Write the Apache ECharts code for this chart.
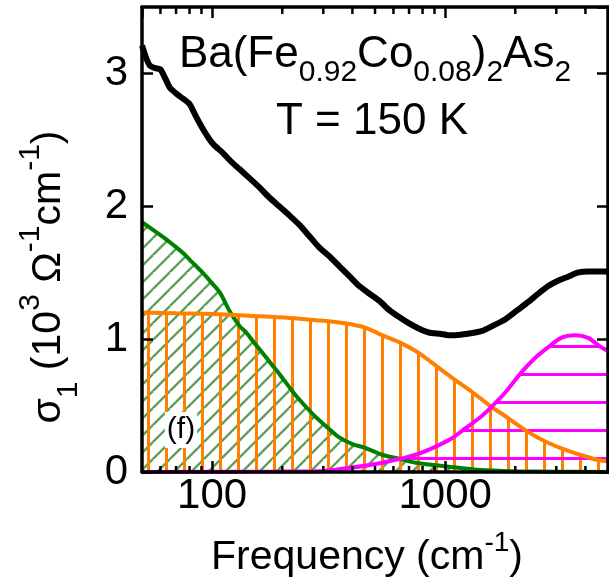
<!DOCTYPE html>
<html>
<head>
<meta charset="utf-8">
<script src="https://cdn.jsdelivr.net/npm/echarts@6/dist/echarts.min.js"></script>
<style>
  html, body { margin: 0; padding: 0; background: #fff; }
  #chart { width: 609px; height: 580px; }
</style>
</head>
<body>
<div id="chart"></div>
<script>
const FONT = '"Liberation Sans", Arial, Helvetica, sans-serif';

// Measured optical conductivity, sigma_1 (10^3 Ohm^-1 cm^-1) vs frequency (cm^-1)
const sigmaFreq = [50, 52, 54, 57, 60, 63, 66, 70, 75, 80, 85, 90, 96, 102, 110, 120, 131, 145, 160, 175, 194, 215, 237, 260, 288, 320, 351, 390, 428, 475, 521, 574, 630, 698, 770, 851, 950, 1040, 1109, 1250, 1432, 1600, 1815, 2050, 2275, 2500, 2771, 3050, 3373, 3700, 4108, 4500, 5000];
const sigmaVal  = [3.21, 3.12, 3.06, 3.04, 3.03, 2.96, 2.89, 2.85, 2.81, 2.77, 2.68, 2.60, 2.52, 2.46, 2.41, 2.34, 2.28, 2.21, 2.14, 2.07, 2.00, 1.93, 1.86, 1.78, 1.69, 1.62, 1.55, 1.47, 1.40, 1.34, 1.29, 1.22, 1.17, 1.12, 1.08, 1.05, 1.04, 1.03, 1.03, 1.04, 1.06, 1.10, 1.15, 1.22, 1.28, 1.34, 1.40, 1.44, 1.47, 1.50, 1.51, 1.51, 1.51];

// Narrow Drude term
const narrowFreq = [50, 55, 61.5, 68, 74.8, 82, 91, 100, 108, 119, 131, 140, 152, 164, 178, 194, 212, 230, 269, 310, 351, 400, 457, 536, 634, 748, 1036, 1432, 2000, 3000, 5000];
const narrowVal  = [1.88, 1.83, 1.77, 1.71, 1.65, 1.58, 1.50, 1.42, 1.35, 1.21, 1.10, 1.05, 0.97, 0.90, 0.82, 0.74, 0.65, 0.57, 0.44, 0.34, 0.26, 0.21, 0.18, 0.13, 0.10, 0.07, 0.04, 0.015, 0.006, 0.002, 0.0];

// Broad Drude term
const broadFreq = [50, 70, 100, 150, 215, 290, 351, 400, 457, 536, 646, 764, 929, 1109, 1312, 1581, 1850, 2275, 2689, 3243, 3793, 4530, 5000];
const broadVal  = [1.20, 1.195, 1.19, 1.175, 1.16, 1.14, 1.125, 1.11, 1.085, 1.03, 0.97, 0.90, 0.79, 0.69, 0.60, 0.49, 0.41, 0.30, 0.23, 0.17, 0.13, 0.09, 0.08];

// Lorentz oscillator
const lorentzFreq = [50, 200, 300, 387, 536, 748, 1036, 1224, 1432, 1581, 1815, 2124, 2438, 2771, 3148, 3613, 4108, 4667, 5000];
const lorentzVal  = [0.0, 0.003, 0.008, 0.03, 0.07, 0.13, 0.24, 0.33, 0.42, 0.49, 0.60, 0.75, 0.86, 0.94, 1.01, 1.03, 1.01, 0.94, 0.91];

// Axis ranges and ticks
const xRange = [50, 5000];
const yRange = [0, 3.5];
const yStep = 1;
const xMinorTicks = [60, 70, 80, 90, 200, 300, 400, 500, 600, 700, 800, 900, 2000, 3000, 4000];

const zip = (xs, ys) => xs.map((x, i) => [x, ys[i]]);

function makePattern(w, h, draw) {
  const c = document.createElement('canvas');
  c.width = w; c.height = h;
  draw(c.getContext('2d'), w, h);
  return { image: c, repeat: 'repeat' };
}

// Hatch fills
const greenHatch = makePattern(17, 17, (ctx, w, h) => {
  ctx.strokeStyle = 'rgba(30,125,30,0.72)';
  ctx.lineWidth = 2.4;
  ctx.beginPath();
  ctx.moveTo(0, h); ctx.lineTo(w, 0);
  ctx.moveTo(-w, h); ctx.lineTo(0, 0);
  ctx.moveTo(0, 2 * h); ctx.lineTo(2 * w, 0);
  ctx.stroke();
});
const orangeHatch = makePattern(18, 4, (ctx) => {
  ctx.fillStyle = '#ff8000';
  ctx.fillRect(3, 0, 3, 4);
});
const magentaHatch = makePattern(4, 28, (ctx) => {
  ctx.fillStyle = '#ff00ff';
  ctx.fillRect(0, 9, 4, 3);
});

const axisLineStyle = { color: '#000', width: 3.5 };
const tickStyle = { color: '#000', width: 2.5 };

const xAxisBase = {
  type: 'log', logBase: 10, min: xRange[0], max: xRange[1], z: 10,
  axisLine: { show: true, onZero: false, lineStyle: axisLineStyle },
  axisTick: { show: true, inside: true, length: 11, lineStyle: tickStyle },
  splitLine: { show: false },
};
const yAxisBase = {
  type: 'value', min: yRange[0], max: yRange[1], interval: yStep, z: 10,
  axisLine: { show: true, onZero: false, lineStyle: axisLineStyle },
  axisTick: { show: true, inside: true, length: 11, lineStyle: tickStyle },
  splitLine: { show: false },
};

const areaSeries = (name, data, fill) => ({
  name, type: 'line', data, smooth: 0.3, showSymbol: false, silent: true,
  lineStyle: { width: 0, opacity: 0 },
  areaStyle: { color: fill, opacity: 1 },
});
const lineSeries = (name, data, color, width) => ({
  name, type: 'line', data, smooth: 0.3, showSymbol: false, silent: true,
  lineStyle: { color, width },
  itemStyle: { color },
});

const option = {
  animation: false,
  backgroundColor: '#fff',
  grid: { left: 142, right: 1, top: 7, bottom: 108 },
  xAxis: [
    Object.assign({}, xAxisBase, {
      position: 'bottom',
      axisLabel: {
        show: true, color: '#000', fontSize: 42, fontFamily: FONT, margin: 3,
        showMinLabel: false, showMaxLabel: false,
        formatter: (v) => String(Math.round(v)),
      },
    }),
    Object.assign({}, xAxisBase, { position: 'top', axisLabel: { show: false } }),
  ],
  yAxis: [
    Object.assign({}, yAxisBase, {
      position: 'left',
      axisLabel: {
        show: true, color: '#000', fontSize: 42, fontFamily: FONT, margin: 14,
        showMaxLabel: false, padding: [0, 0, 10, 0],
      },
    }),
    Object.assign({}, yAxisBase, { position: 'right', axisLabel: { show: false } }),
  ],
  series: [
    areaSeries('narrow Drude fill', zip(narrowFreq, narrowVal), greenHatch),
    areaSeries('broad Drude fill', zip(broadFreq, broadVal), orangeHatch),
    areaSeries('Lorentz fill', zip(lorentzFreq, lorentzVal), magentaHatch),
    lineSeries('narrow Drude', zip(narrowFreq, narrowVal), '#008000', 4),
    lineSeries('broad Drude', zip(broadFreq, broadVal), '#ff8000', 4),
    lineSeries('Lorentz', zip(lorentzFreq, lorentzVal), '#ff00ff', 4),
    Object.assign(lineSeries('sigma1', zip(sigmaFreq, sigmaVal), '#000', 6), { smooth: 0.2 }),
    {
      name: 'minor ticks', type: 'custom', silent: true, clip: false, z: 12,
      data: xMinorTicks.map((v) => [v, yRange[0]]),
      encode: { x: 0, y: 1 },
      renderItem(params, api) {
        const v = api.value(0);
        const b = api.coord([v, yRange[0]]);
        const t = api.coord([v, yRange[1]]);
        return {
          type: 'group',
          children: [
            { type: 'line', shape: { x1: b[0], y1: b[1], x2: b[0], y2: b[1] - 6 }, style: { stroke: '#000', lineWidth: 2.5 } },
            { type: 'line', shape: { x1: t[0], y1: t[1], x2: t[0], y2: t[1] + 7 }, style: { stroke: '#000', lineWidth: 2.5 } },
          ],
        };
      },
    },
  ],
  graphic: [
    {
      type: 'text', x: 375, y: 33, z: 100,
      style: {
        text: '{m|Ba(Fe}{s|0.92}{m|Co}{s|0.08}{m|)}{s|2}{m|As}{s|2}',
        align: 'center', verticalAlign: 'top', fill: '#000',
        rich: {
          m: { fontSize: 44, fontFamily: FONT, fill: '#000', verticalAlign: 'top' },
          s: { fontSize: 30, fontFamily: FONT, fill: '#000', verticalAlign: 'top', padding: [25, 0, 0, 0] },
        },
      },
    },
    {
      type: 'text', x: 372, y: 100, z: 100,
      style: { text: 'T = 150 K', fontSize: 44, fontFamily: FONT, fill: '#000', align: 'center', verticalAlign: 'top' },
    },
    {
      type: 'text', x: 16, y: 277, rotation: Math.PI / 2, z: 100,
      style: {
        text: '{m|σ}{sub|1}{m| (10}{sup|3}{m| Ω}{sup|-1}{m|cm}{sup|-1}{m|)}',
        align: 'center', verticalAlign: 'top', fill: '#000',
        rich: {
          m: { fontSize: 41, fontFamily: FONT, fill: '#000', verticalAlign: 'top', padding: [12, 0, 0, 0] },
          sup: { fontSize: 30, fontFamily: FONT, fill: '#000', verticalAlign: 'top' },
          sub: { fontSize: 30, fontFamily: FONT, fill: '#000', verticalAlign: 'top', padding: [38, 0, 0, 0] },
        },
      },
    },
    {
      type: 'text', x: 367, y: 529, z: 100,
      style: {
        text: '{m|Frequency (cm}{sup|-1}{m|)}',
        align: 'center', verticalAlign: 'top', fill: '#000',
        rich: {
          m: { fontSize: 41, fontFamily: FONT, fill: '#000', verticalAlign: 'top', padding: [8, 0, 0, 0] },
          sup: { fontSize: 28, fontFamily: FONT, fill: '#000', verticalAlign: 'top' },
        },
      },
    },
    {
      type: 'text', x: 181, y: 430, z: 100,
      style: {
        text: '(f)', fontSize: 30, fontFamily: FONT, fill: '#000',
        align: 'center', verticalAlign: 'middle', backgroundColor: '#fff', padding: [3, 2, 3, 2],
      },
    },
  ],
};

const chart = echarts.init(document.getElementById('chart'), null, { renderer: 'canvas' });
chart.setOption(option);
</script>
</body>
</html>
